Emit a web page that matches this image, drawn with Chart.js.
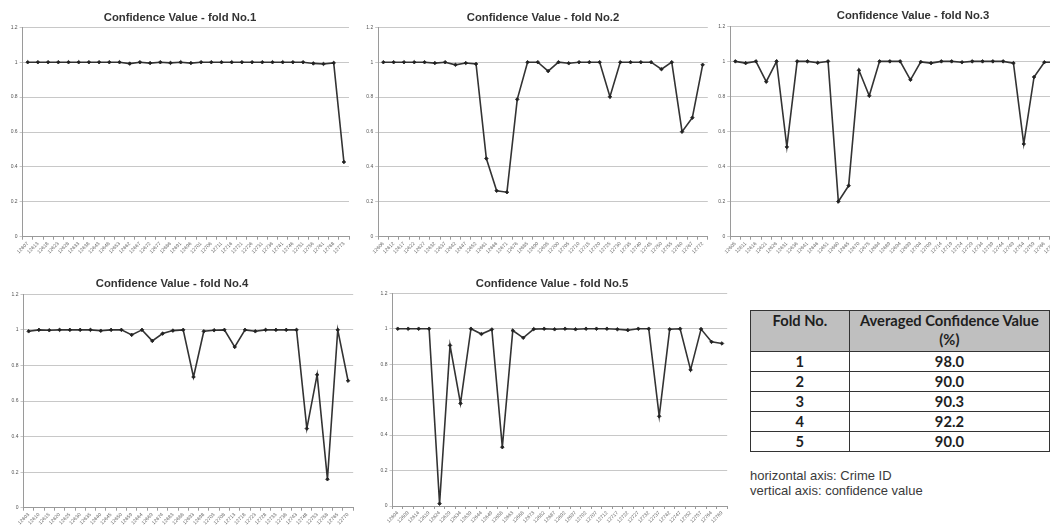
<!DOCTYPE html>
<html>
<head>
<meta charset="utf-8">
<title>Confidence Value by fold</title>
<script src="https://cdn.jsdelivr.net/npm/chart.js@4.4.1/dist/chart.umd.min.js"></script>
<style>
  html, body { margin: 0; padding: 0; background: #ffffff; }
  body { width: 1050px; height: 525px; overflow: hidden; position: relative;
         font-family: "Liberation Sans", Arial, sans-serif; }
  .panel { position: absolute; }
  .panel canvas { display: block; }
  #summary { position: absolute; left: 750px; top: 310px; border-collapse: collapse;
             font-family: Lato, "Open Sans", sans-serif; font-weight: 700; color: #1e1e1e;
             font-size: 14.7px; }
  #summary th, #summary td { border: 1.5px solid #333; padding: 0; text-align: center; }
  #summary th { background: #bfbfbf; vertical-align: top; height: 40px; line-height: 19px; font-weight: 700; }
  #summary td { height: 19px; line-height: 19px; }
  #summary .c1 { width: 101px; }
  #summary .c2 { width: 205px; }
  .note { position: absolute; left: 750px; top: 469px; font-size: 13px; line-height: 14.5px; color: #3a3a3a; }
</style>
</head>
<body>

<table id="summary">
  <thead><tr><th class="c1">Fold No.</th><th class="c2">Averaged Confidence Value<br>(%)</th></tr></thead>
  <tbody></tbody>
</table>
<div class="note">horizontal axis: Crime ID<br>vertical axis: confidence value</div>

<script>
// Crime IDs (x categories) and confidence values for each cross-validation fold
const fold1Ids = ['12607','12613','12618','12623','12628','12633','12638','12643','12648','12653','12662','12667','12672','12677','12686','12691','12696','12701','12706','12711','12716','12721','12726','12731','12736','12741','12746','12751','12756','12761','12768','12773'];
const fold1Conf = [1,1,1,1,1,1,1,1,1,1,0.992,1,0.995,1,0.996,1,0.995,1,1,1,1,1,1,1,1,1,1,1,0.993,0.99,0.996,0.428];

const fold2Ids = ['12606','12612','12617','12622','12627','12632','12637','12642','12647','12652','12661','12666','12671','12676','12685','12690','12695','12700','12705','12710','12715','12720','12725','12730','12735','12740','12745','12750','12755','12760','12767','12772'];
const fold2Conf = [1,1,1,1,1,0.995,1,0.985,0.995,0.99,0.448,0.263,0.255,0.787,1,1,0.949,1,0.994,1,1,1,0.802,1,1,1,1,0.96,1,0.602,0.682,0.985];

const fold3Ids = ['12605','12611','12616','12621','12626','12631','12636','12641','12646','12651','12660','12665','12670','12675','12684','12689','12694','12699','12704','12709','12714','12719','12724','12729','12734','12739','12744','12749','12754','12759','12766','12771'];
const fold3Conf = [1,0.99,1,0.884,1,0.512,1,1,0.992,1,0.201,0.291,0.949,0.804,1,1,1,0.895,0.997,0.99,1,1,0.995,1,1,1,1,0.99,0.529,0.911,0.995,0.995];

const fold4Ids = ['12603','12610','12615','12620','12625','12630','12635','12640','12645','12650','12659','12664','12669','12674','12683','12688','12693','12698','12703','12708','12713','12718','12723','12728','12733','12738','12743','12748','12753','12758','12765','12770'];
const fold4Conf = [0.992,1,0.998,1,1,1,1,0.995,1,1,0.972,1,0.938,0.979,0.996,1,0.735,0.992,0.998,1,0.904,1,0.992,1,1,1,1,0.445,0.748,0.16,1,0.714];

const fold5Ids = ['12604','12609','12614','12619','12624','12629','12634','12639','12644','12649','12658','12663','12668','12673','12682','12687','12692','12697','12702','12707','12712','12717','12722','12727','12732','12737','12742','12747','12752','12757','12764','12769'];
const fold5Conf = [1,1,1,1,0.013,0.906,0.579,1,0.97,0.996,0.332,0.99,0.949,0.998,1,0.997,1,0.997,1,1,1,0.997,0.992,1,1,0.506,0.997,1,0.768,0.998,0.926,0.917];

const foldTitles = ['Confidence Value - fold No.1','Confidence Value - fold No.2','Confidence Value - fold No.3','Confidence Value - fold No.4','Confidence Value - fold No.5'];

// Summary table
const foldNumbers = ['1','2','3','4','5'];
const averagedConfidence = ['98.0','90.0','90.3','92.2','90.0'];

// Panel placement on the page (canvas box, axis bands, title position)
const panels = [
  { ids: fold1Ids, values: fold1Conf, title: foldTitles[0], left: 0,   top: 0,   width: 360, height: 260, yAxisW: 22.6, padR: 11,  titleY: 18, plotTop: 27.3, xAxisH: 23.3 },
  { ids: fold2Ids, values: fold2Conf, title: foldTitles[1], left: 356, top: 0,   width: 374, height: 260, yAxisW: 22.2, padR: 22.2, titleY: 18, plotTop: 27.3, xAxisH: 23.3 },
  { ids: fold3Ids, values: fold3Conf, title: foldTitles[2], left: 712, top: 0,   width: 402, height: 260, yAxisW: 18.2, padR: 54.2, titleY: 16, plotTop: 26.3, xAxisH: 23.3 },
  { ids: fold4Ids, values: fold4Conf, title: foldTitles[3], left: -14, top: 260, width: 372, height: 265, yAxisW: 37.5, padR: 1,   titleY: 24, plotTop: 34.3, xAxisH: 17.3 },
  { ids: fold5Ids, values: fold5Conf, title: foldTitles[4], left: 372, top: 260, width: 360, height: 265, yAxisW: 20.5, padR: 4.5, titleY: 24, plotTop: 33.3, xAxisH: 19 }
];

const sans = '"Liberation Sans", Arial, sans-serif';
const titleSize = 11.3;
const titleLine = titleSize * 1.2;

function buildPanel(p) {
  const holder = document.createElement('div');
  holder.className = 'panel';
  holder.style.left = p.left + 'px';
  holder.style.top = p.top + 'px';
  holder.style.width = p.width + 'px';
  holder.style.height = p.height + 'px';
  const canvas = document.createElement('canvas');
  canvas.width = p.width;
  canvas.height = p.height;
  canvas.style.width = p.width + 'px';
  canvas.style.height = p.height + 'px';
  holder.appendChild(canvas);
  document.body.appendChild(holder);

  const padTop = p.titleY - titleLine / 2;
  const padBottom = p.plotTop - padTop - titleLine;

  new Chart(canvas, {
    type: 'line',
    data: {
      labels: p.ids,
      datasets: [{
        data: p.values,
        xAxisID: 'x',
        yAxisID: 'y',
        borderColor: '#333333',
        borderWidth: 1.6,
        tension: 0,
        pointStyle: 'rectRot',
        pointRadius: 1.8,
        pointBackgroundColor: '#222222',
        pointBorderColor: '#222222',
        pointBorderWidth: 0.8
      }]
    },
    options: {
      responsive: false,
      animation: false,
      devicePixelRatio: 1,
      layout: { padding: 0 },
      plugins: {
        legend: { display: false },
        tooltip: { enabled: false },
        title: {
          display: true,
          text: p.title,
          color: '#333333',
          font: { family: sans, size: titleSize, weight: 'bold', lineHeight: 1.2 },
          padding: { top: padTop, bottom: padBottom }
        }
      },
      scales: {
        x: {
          type: 'category',
          offset: true,
          grid: { display: true, drawOnChartArea: false, offset: true, tickLength: 3, color: '#9a9a9a' },
          border: { color: '#9a9a9a' },
          ticks: { autoSkip: false, minRotation: 45, maxRotation: 45, padding: 1,
                   color: '#666666', font: { family: sans, size: 5 } },
          afterFit: s => { s.height = p.xAxisH; }
        },
        y: {
          min: 0,
          max: 1.2,
          ticks: { stepSize: 0.2, padding: 2, color: '#555555', font: { family: sans, size: 5 },
                   callback: v => String(Number(v.toFixed(1))) },
          grid: { color: '#c8c8c8', tickLength: 3 },
          border: { color: '#9a9a9a' },
          afterFit: s => { s.width = p.yAxisW; }
        },
        pad: {
          type: 'linear',
          position: 'right',
          display: true,
          grid: { display: false },
          border: { display: false },
          ticks: { display: false },
          afterFit: s => { s.width = p.padR; }
        }
      }
    }
  });
}

panels.forEach(buildPanel);

// Fill the summary table rows
const tbody = document.querySelector('#summary tbody');
foldNumbers.forEach((n, i) => {
  const tr = document.createElement('tr');
  const a = document.createElement('td');
  a.textContent = n;
  const b = document.createElement('td');
  b.textContent = averagedConfidence[i];
  tr.appendChild(a);
  tr.appendChild(b);
  tbody.appendChild(tr);
});
</script>
</body>
</html>
